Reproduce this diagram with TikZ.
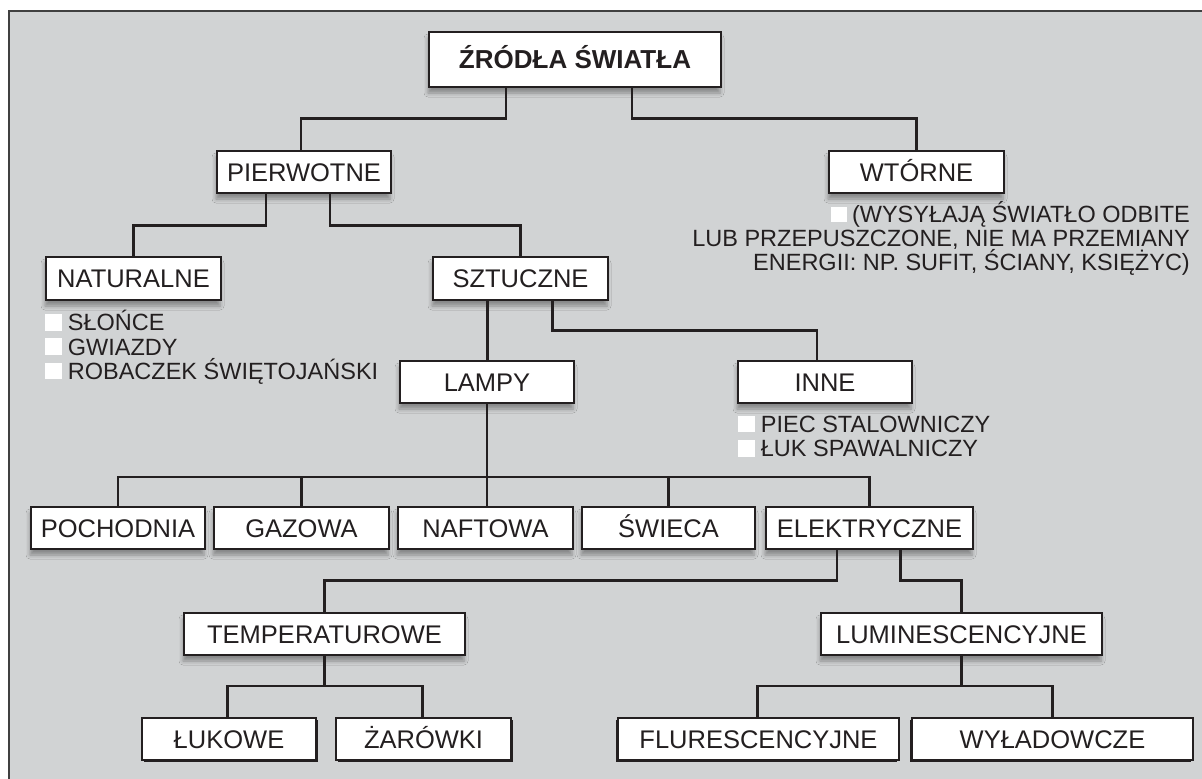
\documentclass[tikz,border=0pt]{standalone}
\usepackage{fontspec}
\setmainfont{Liberation Sans}
\usetikzlibrary{shadows,shadows.blur}
\definecolor{bg}{RGB}{209,211,212}
\definecolor{ink}{RGB}{35,31,32}
\begin{document}
\begin{tikzpicture}[x=1pt,y=-1pt,
  boxbase/.style={draw=ink, line width=1.5pt, fill=white, inner sep=0pt, text=ink,
    font=\fontsize{25.5}{30}\selectfont, minimum height=42pt, text height=18.3pt, text depth=0pt},
  box/.style={boxbase, blur shadow={shadow xshift=-1pt, shadow yshift=-6pt, shadow blur radius=4pt, shadow opacity=35}},
  boxr/.style={boxbase, general shadow={fill=ink, shadow xshift=2pt, shadow yshift=-2pt}},
  boxl/.style={boxbase, general shadow={fill=ink, shadow xshift=-2pt, shadow yshift=-2pt}},
  conn/.style={draw=ink, line width=2.8pt},
  note/.style={inner sep=0pt, text=ink, font=\fontsize{23.5}{28}\selectfont},
  sq/.style={fill=white}
]
\useasboundingbox (0,0) rectangle (1202,779);
% panel
\fill[bg] (9,11) rectangle (1220,800);
\draw[line width=1.2pt, draw=black!75] (9,800) -- (9,11) -- (1220,11);

% boxes
\node[box, minimum width=292pt, minimum height=55pt, text height=18.6pt, font=\fontsize{26}{30}\selectfont\bfseries] (title) at (575,59.5) {ŹRÓDŁA ŚWIATŁA};
\node[box, minimum width=174pt] (pier) at (304,172) {PIERWOTNE};
\node[box, minimum width=175pt] (wt) at (916.5,172) {WTÓRNE};
\node[box, minimum width=175pt, minimum height=43pt] (nat) at (133.5,278.5) {NATURALNE};
\node[box, minimum width=175pt, minimum height=43pt] (szt) at (520.5,278.5) {SZTUCZNE};
\node[box, minimum width=174pt] (lampy) at (487,382) {LAMPY};
\node[box, minimum width=174pt] (inne) at (825,382) {INNE};
\node[box, minimum width=174pt] (poch) at (118,528) {POCHODNIA};
\node[box, minimum width=175pt] (gaz) at (301.5,528) {GAZOWA};
\node[box, minimum width=175pt] (naf) at (485.5,528) {NAFTOWA};
\node[box, minimum width=173pt] (swi) at (668.5,528) {ŚWIECA};
\node[box, minimum width=207pt] (elek) at (869.5,528) {ELEKTRYCZNE};
\node[box, minimum width=281pt] (temp) at (324.5,634) {TEMPERATUROWE};
\node[box, minimum width=281pt] (lum) at (961.5,634) {LUMINESCENCYJNE};
\node[boxr, minimum width=174pt] (luk) at (229,739) {ŁUKOWE};
\node[boxr, minimum width=175pt] (zar) at (423.5,739) {ŻARÓWKI};
\node[boxl, minimum width=281pt] (flu) at (758.5,739) {FLURESCENCYJNE};
\node[boxl, minimum width=281pt] (wyl) at (1052.5,739) {WYŁADOWCZE};

% notes
\fill[sq] (830.7,206.7) rectangle (846.7,221.7);
\node[note, anchor=base east] (w1) at (1190,222) {(WYSYŁAJĄ ŚWIATŁO ODBITE};
\node[note, anchor=base east] (w2) at (1190,246) {LUB PRZEPUSZCZONE, NIE MA PRZEMIANY};
\node[note, anchor=base east] (w3) at (1190,270) {ENERGII: NP. SUFIT, ŚCIANY, KSIĘŻYC)};

\fill[sq] (45.3,314) rectangle (62,330.7);
\fill[sq] (45.3,338.3) rectangle (62,355);
\fill[sq] (45.3,362.7) rectangle (62,379);
\node[note, anchor=base west] (n1) at (67.7,330.7) {SŁOŃCE};
\node[note, anchor=base west] (n2) at (67.7,355) {GWIAZDY};
\node[note, anchor=base west] (n3) at (67.7,379) {ROBACZEK ŚWIĘTOJAŃSKI};

\fill[sq] (738.3,415.7) rectangle (755,432.3);
\fill[sq] (738.3,440) rectangle (755,456.7);
\node[note, anchor=base west] (i1) at (760.7,432.3) {PIEC STALOWNICZY};
\node[note, anchor=base west] (i2) at (760.7,456.7) {ŁUK SPAWALNICZY};

% connectors
\draw[conn] ([xshift=-69pt]title.south) -- ++(0,31) -| ([xshift=-3pt]pier.north);
\draw[conn] ([xshift=57pt]title.south) -- ++(0,31) -| (wt.north);
\draw[conn] ([xshift=-38pt]pier.south) -- ++(0,32) -| (nat.north);
\draw[conn] ([xshift=26pt]pier.south) -- ++(0,32) -| (szt.north);
\draw[conn] ([xshift=-33pt]szt.south) -- ([xshift=-33pt]szt.south |- lampy.north);
\draw[conn] ([xshift=32pt]szt.south) -- ++(0,30) -| ([xshift=-8pt]inne.north);
\coordinate (bus) at (487,477);
\draw[conn] (lampy.south) -- (bus);
\draw[conn] (poch.north) |- (bus) -| (elek.north);
\draw[conn] (gaz.north) -- (gaz.north |- bus);
\draw[conn] (bus) -- (bus |- naf.north);
\draw[conn] (swi.north) -- (swi.north |- bus);
\draw[conn] ([xshift=-32.5pt]elek.south) -- ++(0,31) -| (temp.north);
\draw[conn] ([xshift=31pt]elek.south) -- ++(0,31) -| (lum.north);
\coordinate (tj) at (324.5,686);
\draw[conn] (temp.south) -- (tj);
\draw[conn] ([xshift=-1.5pt]luk.north) |- (tj) -| ([xshift=-1pt]zar.north);
\coordinate (lj) at (961.5,686);
\draw[conn] (lum.south) -- (lj);
\draw[conn] ([xshift=-1pt]flu.north) |- (lj) -| (wyl.north);
\end{tikzpicture}
\end{document}
